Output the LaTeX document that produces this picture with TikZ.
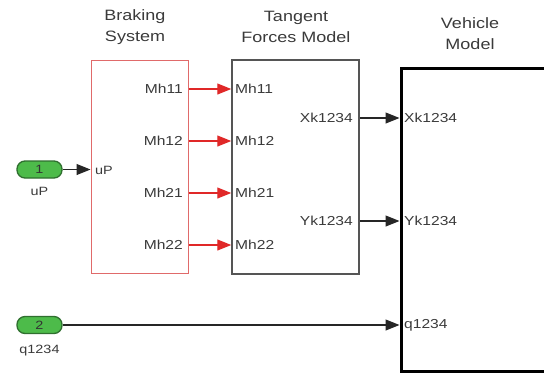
\documentclass[tikz,border=0pt]{standalone}
\usepackage{fontspec}
\setmainfont{Liberation Sans}[FakeStretch=1.2]
\usetikzlibrary{arrows.meta}
\definecolor{txt}{HTML}{3A3A3A}
\definecolor{brbox}{HTML}{E06A6A}
\definecolor{redarr}{HTML}{E02828}
\definecolor{inpfill}{HTML}{4DBB4A}
\definecolor{inpdraw}{HTML}{2F6F2F}
\definecolor{tgbox}{HTML}{555555}
\tikzset{
  title/.style={text=txt, font=\fontsize{15}{21}\selectfont, align=center},
  plab/.style={text=txt, font=\fontsize{13}{15}\selectfont, inner sep=0pt},
  slab/.style={text=txt, font=\fontsize{12}{14}\selectfont, inner sep=0pt},
  inport/.style={draw=inpdraw, line width=1.3pt, fill=inpfill, rounded corners=8pt,
    minimum width=45pt, minimum height=17pt, inner sep=0pt, text=black!80,
    font=\fontsize{12}{14}\selectfont},
  redline/.style={draw=redarr, line width=1.1pt, -{Triangle[length=14pt,width=11pt]}},
  blkline/.style={draw=black!85, line width=1.1pt, -{Triangle[length=14pt,width=11pt]}},
}
\begin{document}
\begin{tikzpicture}[x=1pt,y=-1pt]
\useasboundingbox (0,0) rectangle (544,376);
% boxes
\node[draw=brbox, line width=1pt, minimum width=97pt, minimum height=213pt, inner sep=0pt] (brake) at (139.5,166.5) {};
\node[draw=tgbox, line width=1.5pt, minimum width=127pt, minimum height=214pt, inner sep=0pt] (tang) at (295.5,167) {};
\node[draw=black, line width=3pt, minimum width=200pt, minimum height=303pt, inner sep=0pt] (veh) at (501,219.5) {};
% titles
\node[title] (tbrake) at (135,27) {Braking\\System};
\node[title] (ttang) at (296,27) {Tangent\\Forces Model};
\node[title] (tveh) at (470,34) {Vehicle\\Model};
% inports
\node[inport] (in1) at (39.5,169.5) {1};
\node[slab] (in1l) at (39.5,191) {uP};
\node[inport] (in2) at (39.5,325) {2};
\node[slab] (in2l) at (39.5,351) {q1234};
% braking ports
\node[slab, anchor=west] (bin) at (95,170) {uP};
\node[plab, anchor=east] (b11) at (183,89) {Mh11};
\node[plab, anchor=east] (b12) at (183,141) {Mh12};
\node[plab, anchor=east] (b21) at (183,193) {Mh21};
\node[plab, anchor=east] (b22) at (183,245) {Mh22};
% tangent ports
\node[plab, anchor=west] (t11) at (235,89) {Mh11};
\node[plab, anchor=west] (t12) at (235,141) {Mh12};
\node[plab, anchor=west] (t21) at (235,193) {Mh21};
\node[plab, anchor=west] (t22) at (235,245) {Mh22};
\node[plab, anchor=east] (tx) at (353,118) {Xk1234};
\node[plab, anchor=east] (ty) at (353,221) {Yk1234};
% vehicle ports
\node[plab, anchor=west] (vx) at (404,118) {Xk1234};
\node[plab, anchor=west] (vy) at (404,221) {Yk1234};
\node[plab, anchor=west] (vq) at (404,325) {q1234};
% connectors
\draw[blkline] (in1.east) -- (brake.west |- in1);
\draw[redline] (brake.east |- b11) -- (tang.west |- b11);
\draw[redline] (brake.east |- b12) -- (tang.west |- b12);
\draw[redline] (brake.east |- b21) -- (tang.west |- b21);
\draw[redline] (brake.east |- b22) -- (tang.west |- b22);
\draw[blkline] (tang.east |- tx) -- (veh.west |- tx);
\draw[blkline] (tang.east |- ty) -- (veh.west |- ty);
\draw[blkline] (in2.east) -- (veh.west |- in2);
\end{tikzpicture}
\end{document}
